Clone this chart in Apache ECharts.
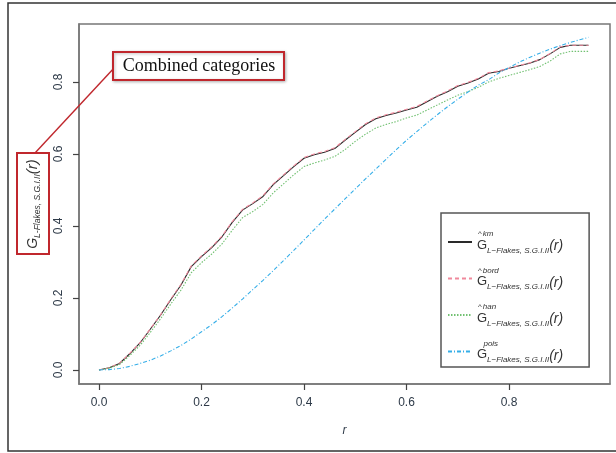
<!DOCTYPE html>
<html>
<head>
<meta charset="utf-8">
<script src="https://cdn.jsdelivr.net/npm/echarts@6/dist/echarts.min.js"></script>
<style>
html,body{margin:0;padding:0;background:#fff;}
#chart{width:616px;height:453px;}
</style>
</head>
<body>
<div id="chart"></div>
<script>
// ---- data ----
var rValues = [0, 0.02, 0.04, 0.06, 0.08, 0.10, 0.12, 0.14, 0.16, 0.18,
  0.20, 0.22, 0.24, 0.26, 0.28, 0.30, 0.32, 0.34, 0.36, 0.38,
  0.40, 0.42, 0.44, 0.46, 0.48, 0.50, 0.52, 0.54, 0.56, 0.58,
  0.60, 0.62, 0.64, 0.66, 0.68, 0.70, 0.72, 0.74, 0.76, 0.78,
  0.80, 0.82, 0.84, 0.86, 0.88, 0.90, 0.92, 0.94, 0.955];
var kmValues = [0.000, 0.006, 0.018, 0.045, 0.075, 0.113, 0.152, 0.195, 0.236, 0.287,
  0.315, 0.340, 0.370, 0.410, 0.444, 0.462, 0.482, 0.515, 0.540, 0.565,
  0.588, 0.598, 0.605, 0.615, 0.638, 0.660, 0.682, 0.698, 0.707, 0.714,
  0.722, 0.730, 0.745, 0.760, 0.773, 0.788, 0.797, 0.808, 0.824, 0.829,
  0.838, 0.845, 0.852, 0.862, 0.878, 0.896, 0.902, 0.902, 0.902];
var bordValues = [0.000, 0.006, 0.019, 0.046, 0.076, 0.114, 0.153, 0.197, 0.238, 0.289,
  0.317, 0.342, 0.372, 0.412, 0.446, 0.464, 0.484, 0.517, 0.542, 0.567,
  0.590, 0.600, 0.607, 0.617, 0.640, 0.662, 0.684, 0.700, 0.709, 0.716,
  0.724, 0.732, 0.747, 0.762, 0.775, 0.790, 0.799, 0.810, 0.826, 0.831,
  0.838, 0.846, 0.853, 0.863, 0.879, 0.898, 0.902, 0.902, 0.902];
var hanValues = [0.000, 0.005, 0.015, 0.040, 0.068, 0.104, 0.142, 0.183, 0.222, 0.270,
  0.298, 0.322, 0.350, 0.388, 0.423, 0.440, 0.460, 0.492, 0.517, 0.542,
  0.565, 0.575, 0.583, 0.593, 0.612, 0.635, 0.655, 0.672, 0.682, 0.690,
  0.700, 0.708, 0.722, 0.736, 0.750, 0.763, 0.773, 0.785, 0.800, 0.810,
  0.818, 0.826, 0.834, 0.843, 0.858, 0.878, 0.885, 0.885, 0.885];
var poisValues = [0.000, 0.001, 0.004, 0.010, 0.018, 0.027, 0.039, 0.053, 0.068, 0.086,
  0.106, 0.126, 0.148, 0.172, 0.197, 0.223, 0.249, 0.276, 0.304, 0.332,
  0.361, 0.390, 0.419, 0.447, 0.475, 0.503, 0.531, 0.558, 0.585, 0.612,
  0.638, 0.662, 0.686, 0.709, 0.731, 0.752, 0.772, 0.791, 0.806, 0.825,
  0.840, 0.855, 0.868, 0.880, 0.891, 0.901, 0.910, 0.918, 0.924];
var xTicks = [0, 0.2, 0.4, 0.6, 0.8];
var yTicks = [0, 0.2, 0.4, 0.6, 0.8];
var seriesNames = ['km', 'bord', 'han', 'pois'];

function pairs(ys){ return rValues.map(function(x,i){ return [x, ys[i]]; }); }

var labelColor = '#2e3a48';
var sub = 'L\u2212Flakes, S.G.I.II';
var legendRich = {
  hat: {fontSize: 8, fontFamily: 'Liberation Sans', color: '#333', lineHeight: 9, padding: [0, 1, 0, 1]},
  sup: {fontSize: 8, fontStyle: 'italic', fontFamily: 'Liberation Sans', color: '#333', lineHeight: 9},
  G: {fontSize: 13, fontFamily: 'Liberation Sans', color: '#333', lineHeight: 16, verticalAlign: 'top'},
  sub: {fontSize: 8, fontStyle: 'italic', fontFamily: 'Liberation Sans', color: '#333', lineHeight: 16, verticalAlign: 'bottom'},
  r: {fontSize: 14, fontStyle: 'italic', fontFamily: 'Liberation Sans', color: '#333', lineHeight: 16}
};
function legendText(name){
  var hat = name === 'pois' ? '  ' : '^';
  return '{hat|' + hat + '}{sup|' + name + '}\n{G|G}{sub|' + sub + '}{r|(r)}';
}

var chart = echarts.init(document.getElementById('chart'), null, {renderer: 'canvas'});
chart.setOption({
  animation: false,
  backgroundColor: '#fff',
  grid: {left: 79, right: 6, top: 24, bottom: 69, show: true, borderColor: '#777', borderWidth: 1.5, backgroundColor: 'transparent'},
  xAxis: {
    type: 'value', min: -0.039, max: 0.997,
    axisLine: {show: true, onZero: false, lineStyle: {color: '#777', width: 1.5}},
    splitLine: {show: false},
    axisTick: {show: true, inside: false, customValues: xTicks, length: 6, lineStyle: {color: '#444', width: 1.2}},
    axisLabel: {customValues: xTicks, formatter: function(v){ return v.toFixed(1); }, margin: 13, color: labelColor, fontSize: 12, fontFamily: 'Liberation Sans'},
    name: 'r', nameLocation: 'middle', nameGap: 41,
    nameTextStyle: {fontStyle: 'italic', fontSize: 12, color: labelColor, fontFamily: 'Liberation Sans'}
  },
  yAxis: {
    type: 'value', min: -0.039, max: 0.961,
    axisLine: {show: true, onZero: false, lineStyle: {color: '#777', width: 1.5}},
    splitLine: {show: false},
    axisTick: {show: true, inside: false, customValues: yTicks, length: 6, lineStyle: {color: '#444', width: 1.2}},
    axisLabel: {customValues: yTicks, formatter: function(v){ return v.toFixed(1); }, rotate: 90, margin: 14, color: labelColor, fontSize: 12, fontFamily: 'Liberation Sans'}
  },
  legend: {
    orient: 'vertical', left: 441, top: 213,
    data: seriesNames,
    itemWidth: 24, itemHeight: 10, itemGap: 12,
    padding: [17, 26, 3, 6],
    borderColor: '#555', borderWidth: 1.5, backgroundColor: '#fff',
    itemStyle: {opacity: 0},
    formatter: legendText,
    textStyle: {rich: legendRich},
    selectedMode: false
  },
  series: [
    {name: 'km', type: 'line', data: pairs(kmValues), symbol: 'none', z: 2,
     lineStyle: {color: '#2a2a2a', width: 1.1, type: 'solid'}, itemStyle: {color: '#2a2a2a'}},
    {name: 'bord', type: 'line', data: pairs(bordValues), symbol: 'none', z: 3,
     lineStyle: {color: '#f0899c', width: 1.1, type: [4, 3]}, itemStyle: {color: '#f0899c'}},
    {name: 'han', type: 'line', data: pairs(hanValues), symbol: 'none', z: 4,
     lineStyle: {color: '#72c172', width: 1.1, type: [1.5, 1.5]}, itemStyle: {color: '#72c172'}},
    {name: 'pois', type: 'line', data: pairs(poisValues), symbol: 'none', z: 5,
     lineStyle: {color: '#35aee8', width: 1.1, type: [4, 2, 1, 2]}, itemStyle: {color: '#35aee8'}}
  ],
  graphic: [
    {type: 'rect', silent: true, z: 0, shape: {x: 8, y: 3, width: 620, height: 448},
     style: {fill: 'none', stroke: '#333', lineWidth: 1.5}},
    {type: 'line', silent: true, z: 10, shape: {x1: 115, y1: 67, x2: 35, y2: 153},
     style: {stroke: '#c0272d', lineWidth: 1.4}},
    {type: 'rect', silent: true, z: 10, shape: {x: 113, y: 52, width: 171, height: 28},
     style: {fill: '#fff', stroke: '#c0272d', lineWidth: 2, shadowBlur: 3, shadowColor: 'rgba(0,0,0,0.25)', shadowOffsetX: 1, shadowOffsetY: 1}},
    {type: 'text', silent: true, z: 11, x: 199, y: 66,
     style: {text: 'Combined categories', font: '18px "Liberation Serif"', fill: '#111', align: 'center', verticalAlign: 'middle'}},
    {type: 'rect', silent: true, z: 10, shape: {x: 17, y: 153, width: 32, height: 101},
     style: {fill: '#fff', stroke: '#c0272d', lineWidth: 2}},
    {type: 'text', silent: true, z: 11, x: 33, y: 204, rotation: Math.PI / 2,
     style: {
       text: '{G|G}{sub|L-Flakes, S.G.I.II}{r|(r)}',
       align: 'center', verticalAlign: 'middle',
       rich: {
         G: {fontSize: 14, fontStyle: 'italic', fontFamily: 'Liberation Sans', fill: '#333', lineHeight: 18, verticalAlign: 'middle'},
         sub: {fontSize: 8.5, fontStyle: 'italic', fontFamily: 'Liberation Sans', fill: '#333', lineHeight: 18, verticalAlign: 'bottom'},
         r: {fontSize: 15, fontStyle: 'italic', fontFamily: 'Liberation Sans', fill: '#333', lineHeight: 18, verticalAlign: 'middle'}
       }
     }}
  ]
});
</script>
</body>
</html>
